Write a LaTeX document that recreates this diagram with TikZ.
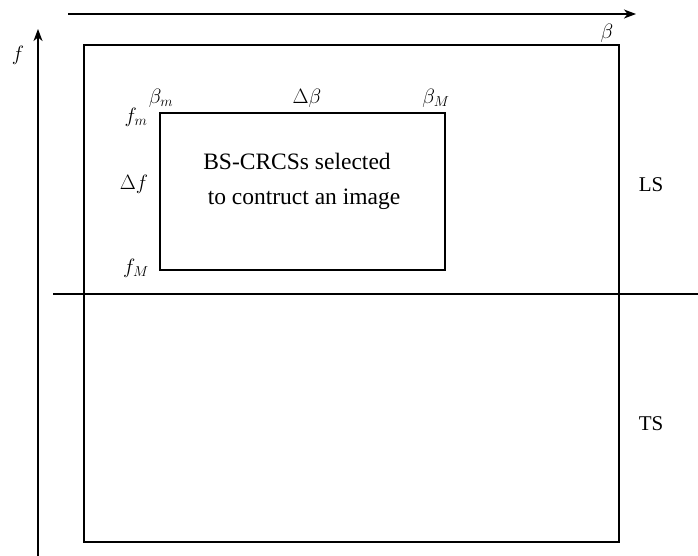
\documentclass[tikz,border=0pt]{standalone}
\usepackage{fontspec}
\setmainfont{Liberation Serif}
\usetikzlibrary{arrows.meta}
\tikzset{
  ln/.style={line width=1.3pt},
  arr/.style={ln,-{Stealth[length=12pt,width=9pt,inset=3.5pt]}},
  lbl/.style={inner sep=0pt,font=\fontsize{21}{25}\selectfont},
  body/.style={inner sep=0pt,font=\fontsize{23.5}{28}\selectfont},
}
\begin{document}
\begin{tikzpicture}[x=1pt,y=-1pt]
\useasboundingbox (0,0) rectangle (698,556);
% axes
\coordinate (hs) at (68,14);
\coordinate (he) at (636,14);
\coordinate (vs) at (38,556);
\coordinate (ve) at (38,29);
\draw[arr] (hs) -- (he);
\draw[arr] (vs) -- (ve);
% outer rectangle and divider
\draw[ln] (84,45) rectangle (619,542);
\coordinate (ds) at (53,294);
\coordinate (de) at (698,294);
\draw[ln] (ds) -- (de);
% inner rectangle
\node[ln,draw,minimum width=285pt,minimum height=157pt,inner sep=0pt] (inner) at (302.5,191.5) {};
% labels
\node[lbl] (beta) at (607,33) {$\beta$};
\node[lbl] (f) at (18,55) {$f$};
\node[lbl] (bm) at (161,98) {$\beta_m$};
\node[lbl] (db) at (307,98) {$\Delta\beta$};
\node[lbl] (bM) at (436,98) {$\beta_M$};
\node[lbl] (fm) at (136,117) {$f_m$};
\node[lbl] (df) at (134,184) {$\Delta f$};
\node[lbl] (fM) at (136,268) {$f_M$};
\node[body] (t1) at (297,161) {BS-CRCSs selected};
\node[body] (t2) at (304,199) {to contruct an image};
\node[lbl] (LS) at (651,185) {LS};
\node[lbl] (TS) at (651,424) {TS};
\end{tikzpicture}
\end{document}
